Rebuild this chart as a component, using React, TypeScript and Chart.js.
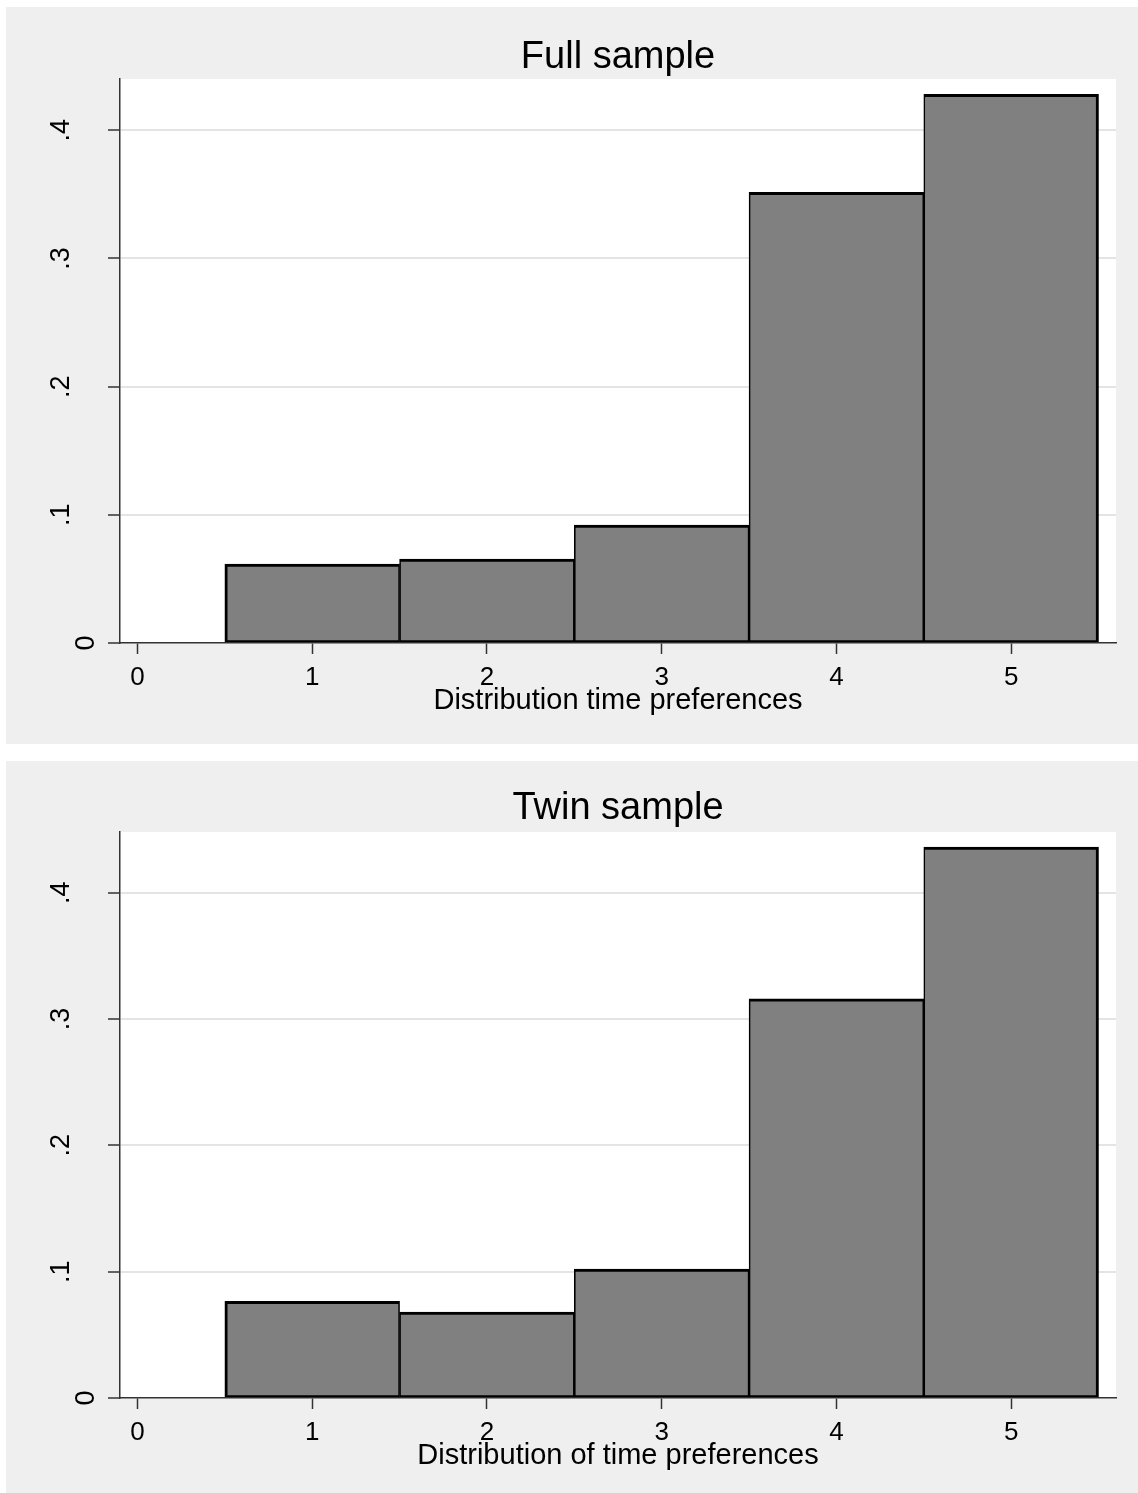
import React, { useEffect, useRef } from "react";
import { Chart, registerables } from "chart.js";

Chart.register(...registerables);
Chart.defaults.font.family = "'Liberation Sans', Arial, Helvetica, sans-serif";

// ---- data ----
const categories = [1, 2, 3, 4, 5];
const fullSampleDensity = [0.0616, 0.0655, 0.092, 0.3515, 0.428];
const twinSampleDensity = [0.0765, 0.068, 0.102, 0.316, 0.436];
const xTickValues = [0, 1, 2, 3, 4, 5];
const xTickLabels = ["0", "1", "2", "3", "4", "5"];
const yTickValues = [0, 0.1, 0.2, 0.3, 0.4];
const yTickLabels = ["0", ".1", ".2", ".3", ".4"];
const panelTitles = ["Full sample", "Twin sample"];
const axisTitles = ["Distribution time preferences", "Distribution of time preferences"];

const FONT = "'Liberation Sans', Arial, Helvetica, sans-serif";

type PanelCfg = {
  title: string;
  xTitle: string;
  values: number[];
  yMax: number;
  top: number;
  height: number;
  titlePad: { top: number; bottom: number };
  xAxisHeight: number;
  xTitlePadBottom: number;
};

const panels: PanelCfg[] = [
  {
    title: panelTitles[0],
    xTitle: axisTitles[0],
    values: fullSampleDensity,
    yMax: 0.44,
    top: 7,
    height: 737,
    titlePad: { top: 31.5, bottom: 2.5 },
    xAxisHeight: 101,
    xTitlePadBottom: 26,
  },
  {
    title: panelTitles[1],
    xTitle: axisTitles[1],
    values: twinSampleDensity,
    yMax: 0.448,
    top: 761,
    height: 732,
    titlePad: { top: 28.5, bottom: 4.5 },
    xAxisHeight: 95,
    xTitlePadBottom: 20,
  },
];

const plotBg = {
  id: "plotBg",
  beforeDraw(chart: any) {
    const { ctx, chartArea: a } = chart;
    ctx.save();
    ctx.fillStyle = "#ffffff";
    ctx.fillRect(a.left, a.top, a.right - a.left, a.bottom - a.top);
    ctx.restore();
  },
};

function makeConfig(p: PanelCfg): any {
  const last = categories.length - 1;
  return {
    type: "bar",
    data: {
      datasets: [
        {
          data: categories.map((c, i) => ({ x: c, y: p.values[i] })),
          backgroundColor: "#808080",
          borderColor: "#000000",
          borderSkipped: false,
          borderWidth: (ctx: any) => ({
            top: 3,
            bottom: 2,
            left: ctx.dataIndex === 0 ? 3 : 1.6,
            right: ctx.dataIndex === last ? 3 : 1.6,
          }),
          barPercentage: 1,
          categoryPercentage: 1,
        },
      ],
    },
    options: {
      responsive: false,
      animation: false,
      layout: { padding: { left: 0, right: 22, top: 0, bottom: 0 } },
      plugins: {
        legend: { display: false },
        tooltip: { enabled: false },
        title: {
          display: true,
          fullSize: false,
          text: p.title,
          color: "#000",
          font: { family: FONT, size: 38, weight: "normal", lineHeight: 1.0 },
          padding: p.titlePad,
        },
      },
      scales: {
        x: {
          type: "linear",
          min: -0.1,
          max: 5.6,
          offset: false,
          afterBuildTicks: (s: any) => {
            s.ticks = xTickValues.map((v) => ({ value: v }));
          },
          afterFit: (s: any) => {
            s.height = p.xAxisHeight;
          },
          grid: {
            display: true,
            drawOnChartArea: false,
            drawTicks: true,
            tickLength: 11,
            tickColor: "#333",
            tickWidth: 1.5,
            offset: false,
          },
          border: { display: true, color: "#333", width: 1.5 },
          ticks: {
            color: "#000",
            font: { family: FONT, size: 26 },
            padding: 8,
            minRotation: 0,
            maxRotation: 0,
            callback: (v: number) => {
              const i = xTickValues.indexOf(v);
              return i >= 0 ? xTickLabels[i] : "";
            },
          },
          title: {
            display: true,
            text: p.xTitle,
            color: "#000",
            font: { family: FONT, size: 29, lineHeight: 1.2 },
            padding: { top: 0, bottom: p.xTitlePadBottom },
          },
        },
        y: {
          type: "linear",
          min: 0,
          max: p.yMax,
          afterBuildTicks: (s: any) => {
            s.ticks = yTickValues.map((v) => ({ value: v }));
          },
          afterFit: (s: any) => {
            s.width = 114;
          },
          grid: {
            color: (ctx: any) =>
              ctx.tick && ctx.tick.value === 0 ? "rgba(0,0,0,0)" : "#e4e4e4",
            lineWidth: 2,
            tickColor: "#333",
            tickLength: 12,
            tickWidth: 1.5,
          },
          border: { display: true, color: "#333", width: 1.5 },
          ticks: {
            color: "#000",
            font: { family: FONT, size: 27, lineHeight: 1.85 },
            padding: 35,
            minRotation: 90,
            maxRotation: 90,
            crossAlign: "center",
            callback: (v: number) => {
              const i = yTickValues.indexOf(v);
              const label = i >= 0 ? yTickLabels[i] : "";
              return v === 0 ? ["", label] : label;
            },
          },
        },
      },
    },
    plugins: [plotBg],
  };
}

function Panel({ cfg }: { cfg: PanelCfg }) {
  const ref = useRef<HTMLCanvasElement | null>(null);
  useEffect(() => {
    if (!ref.current) return;
    const chart = new Chart(ref.current, makeConfig(cfg));
    return () => chart.destroy();
  }, [cfg]);
  return (
    <div
      style={{
        position: "absolute",
        left: 6,
        top: cfg.top,
        width: 1132,
        height: cfg.height,
        background: "#efefef",
      }}
    >
      <canvas ref={ref} width={1132} height={cfg.height} style={{ display: "block" }} />
    </div>
  );
}

export default function App() {
  return (
    <div
      style={{
        position: "absolute",
        left: 0,
        top: 0,
        width: 1138,
        height: 1493,
        background: "#ffffff",
        overflow: "hidden",
      }}
    >
      {panels.map((p, i) => (
        <Panel key={i} cfg={p} />
      ))}
    </div>
  );
}
